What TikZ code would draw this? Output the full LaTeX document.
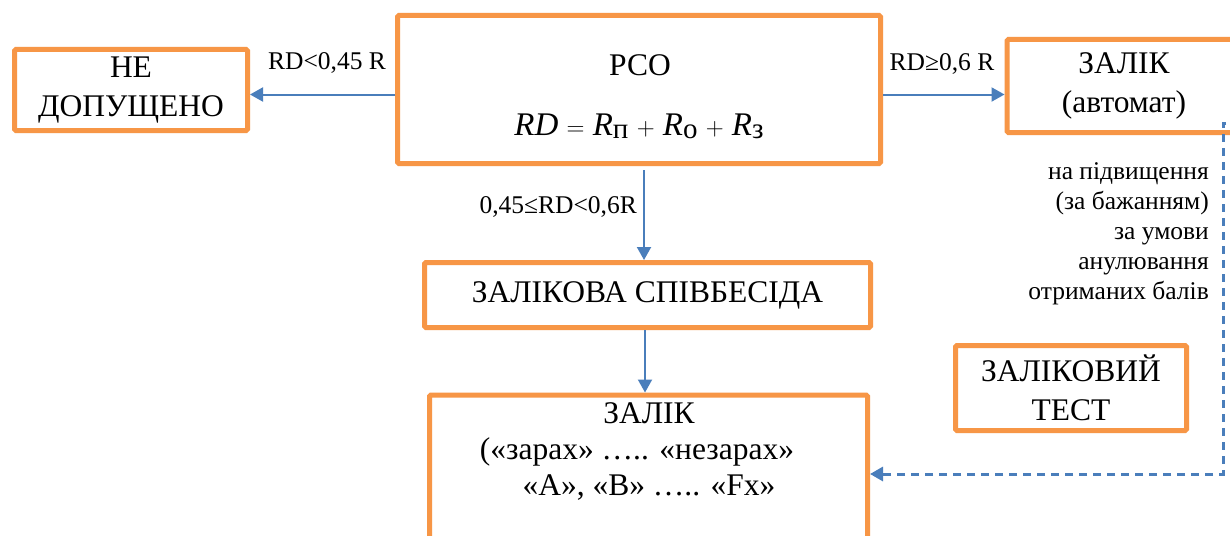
\documentclass[tikz,border=0pt]{standalone}
\usepackage{fontspec}
\setmainfont{Liberation Serif}
\usetikzlibrary{arrows.meta}
\definecolor{boxor}{HTML}{F79646}
\definecolor{arrbl}{HTML}{4A7EBB}
\newcommand{\subcyr}[1]{\raisebox{-3pt}{\fontsize{29}{30}\selectfont\upshape #1}}
\begin{document}
\begin{tikzpicture}[x=1pt,y=-1pt,
 box/.style={draw=boxor,line width=5pt,rounded corners=1.5pt,fill=white,inner sep=0pt,align=center,font=\fontsize{31.5}{39}\selectfont},
 btxt/.style={inner sep=0pt,align=center,font=\fontsize{31.5}{39}\selectfont},
 lbl/.style={inner sep=0pt,font=\fontsize{25.5}{30}\selectfont},
 arr/.style={draw=arrbl,line width=2pt,-{Triangle[length=13pt,width=14pt]}},
 darr/.style={draw=arrbl,line width=3pt,dash pattern=on 8pt off 6pt,-{Triangle[length=13pt,width=14pt]}}]
\useasboundingbox (0,0) rectangle (1230,535);
\fill[white] (0,0) rectangle (1230,535);
\clip (0,0) rectangle (1230,535);

\node[box,minimum width=233pt,minimum height=81pt] (nd) at (131,90) {НЕ\\ДОПУЩЕНО};
\node[box,minimum width=483pt,minimum height=148pt] (pco) at (639,89.5) {};
\node[btxt] (pcot) at (640,65) {РСО};
\node[btxt,font=\fontsize{33}{39}\selectfont] (form) at (639,126) {\textit{RD}~$=$~\textit{R}\subcyr{п}~$+$~\textit{R}\subcyr{о}~$+$~\textit{R}\subcyr{з}};
\node[box,minimum width=234pt,minimum height=93pt] (auto) at (1124,86) {ЗАЛІК\\(автомат)};
\node[box,minimum width=446pt,minimum height=65pt] (sp) at (647.5,295) {ЗАЛІКОВА СПІВБЕСІДА};
\node[box,minimum width=438pt,minimum height=200pt,anchor=north] (zal) at (648.5,392.5) {};
\node[btxt] (z1) at (649,413) {ЗАЛІК};
\node[btxt] (z2) at (637,452) {(«зарах» ….. «незарах»};
\node[btxt] (z3) at (649,488) {«А», «В» ….. «Fx»};
\node[box,minimum width=231pt,minimum height=85pt] (test) at (1071,388) {ЗАЛІКОВИЙ\\ТЕСТ};

\node[lbl] (l1) at (327,63) {RD<0,45 R};
\node[lbl] (l2) at (942,64) {RD≥0,6 R};
\node[lbl,anchor=east] (l3) at (637,207) {0,45≤RD<0,6R};
\node[lbl,anchor=east,align=right] (l4) at (1209,234) {на підвищення\\(за бажанням)\\за умови\\анулювання\\отриманих балів};

\draw[arr] ([yshift=-5pt]pco.west) -- ([yshift=-5pt]pco.west -| nd.east);
\draw[arr] ([yshift=-5pt]pco.east) -- ([yshift=-5pt]pco.east -| auto.west);
\draw[arr] ([yshift=-4pt]pco.south -| 644,0) -- (sp.north -| 644,0);
\draw[arr] (sp.south -| 645,0) -- (zal.north -| 645,0);
\coordinate (ds) at (1240,123);
\draw[darr] (ds) -- (1223,123) -- (1223,474) -- (zal.east |- 0,474);
\end{tikzpicture}
\end{document}
